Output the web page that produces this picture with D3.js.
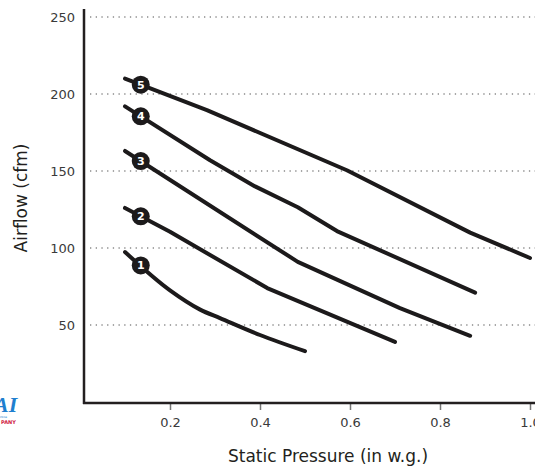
<!DOCTYPE html>
<html>
<head>
<meta charset="utf-8">
<script src="https://cdn.jsdelivr.net/npm/d3@7"></script>
<style>
  body { margin: 0; background: #fff; }
  svg { display: block; font-family: "DejaVu Sans", sans-serif; }
</style>
</head>
<body>
<div id="chart"></div>
<script>
// curve labels and the points (pressure in w.g., airflow in cfm)
var curveNames = ["1", "2", "3", "4", "5"];
var pressure1 = [0.1, 0.2, 0.267, 0.311, 0.4, 0.5];
var airflow1  = [97.4, 72.5, 60, 54.5, 43.5, 33];
var pressure2 = [0.1, 0.2, 0.416, 0.7];
var airflow2  = [126, 110.5, 74, 39];
var pressure3 = [0.1, 0.484, 0.711, 0.867];
var airflow3  = [163, 91, 61, 43];
var pressure4 = [0.1, 0.289, 0.389, 0.484, 0.571, 0.878];
var airflow4  = [192, 157, 140, 126.5, 111, 71];
var pressure5 = [0.1, 0.282, 0.593, 0.867, 1.0];
var airflow5  = [210, 189.5, 150.5, 110, 93.5];
var xTicks = [0.2, 0.4, 0.6, 0.8, 1.0];
var yTicks = [50, 100, 150, 200, 250];
var markerPressure = 0.135;

var width = 535, height = 466;

var svg = d3.select("#chart").append("svg")
  .attr("width", width)
  .attr("height", height);

var x = d3.scaleLinear().domain([0.01, 1.0]).range([84.5, 530]);
var y = d3.scaleLinear().domain([0, 250]).range([402, 17]);

// dotted grid lines
svg.append("g").selectAll("line")
  .data(yTicks)
  .enter().append("line")
  .attr("x1", 90)
  .attr("x2", width)
  .attr("y1", function(d) { return y(d); })
  .attr("y2", function(d) { return y(d); })
  .style("stroke", "#8a8a8a")
  .style("stroke-width", 1.3)
  .style("stroke-dasharray", "1.3,4.4");

// y tick labels
svg.append("g").selectAll("text")
  .data(yTicks)
  .enter().append("text")
  .attr("x", 75)
  .attr("y", function(d) { return y(d); })
  .attr("dy", "0.36em")
  .attr("text-anchor", "end")
  .style("font-size", "13px")
  .style("fill", "#3a3a3a")
  .text(function(d) { return d; });

// x axis ticks + labels
var xAxis = svg.append("g").attr("transform", "translate(0,403)")
  .call(d3.axisBottom(x).tickValues(xTicks).tickFormat(d3.format(".1f")).tickSize(7).tickPadding(8));
xAxis.select(".domain").remove();
xAxis.selectAll(".tick line").style("stroke", "#777").style("stroke-width", 1.5);
xAxis.selectAll(".tick text")
  .style("font-family", "'DejaVu Sans', sans-serif")
  .style("font-size", "13px")
  .style("fill", "#3a3a3a");

// axis lines
svg.append("line")
  .attr("x1", 84).attr("x2", 84).attr("y1", 9).attr("y2", 404)
  .style("stroke", "#231f20").style("stroke-width", 2.5);
svg.append("line")
  .attr("x1", 83).attr("x2", width).attr("y1", 403).attr("y2", 403)
  .style("stroke", "#231f20").style("stroke-width", 2.5);

// axis titles
svg.append("text")
  .attr("x", 328).attr("y", 462)
  .attr("text-anchor", "middle")
  .style("font-size", "17px")
  .style("fill", "#231f20")
  .text("Static Pressure (in w.g.)");

svg.append("text")
  .attr("transform", "translate(27,198) rotate(-90)")
  .attr("text-anchor", "middle")
  .style("font-size", "17px")
  .style("fill", "#231f20")
  .text("Airflow (cfm)");

// curves
var curves = [
  {name: curveNames[0], px: pressure1, af: airflow1},
  {name: curveNames[1], px: pressure2, af: airflow2},
  {name: curveNames[2], px: pressure3, af: airflow3},
  {name: curveNames[3], px: pressure4, af: airflow4},
  {name: curveNames[4], px: pressure5, af: airflow5}
].map(function(c) {
  c.points = c.px.map(function(p, i) { return {p: p, v: c.af[i]}; });
  return c;
});

var line = d3.line()
  .x(function(d) { return x(d.p); })
  .y(function(d) { return y(d.v); });

svg.append("g").selectAll("path")
  .data(curves)
  .enter().append("path")
  .attr("d", function(c) {
    return line.curve(c.name === "1" ? d3.curveMonotoneX : d3.curveLinear)(c.points);
  })
  .style("fill", "none")
  .style("stroke", "#1c1a1b")
  .style("stroke-width", 4)
  .style("stroke-linecap", "round")
  .style("stroke-linejoin", "round");

// numbered markers sitting on each curve
function valueAt(c, p) {
  var pts = c.points;
  for (var i = 0; i < pts.length - 1; i++) {
    if (p >= pts[i].p && p <= pts[i + 1].p) {
      var t = (p - pts[i].p) / (pts[i + 1].p - pts[i].p);
      return pts[i].v + t * (pts[i + 1].v - pts[i].v);
    }
  }
  return pts[0].v;
}

var markers = svg.append("g").selectAll("g")
  .data(curves)
  .enter().append("g")
  .attr("transform", function(c) {
    return "translate(" + x(markerPressure) + "," + y(valueAt(c, markerPressure)) + ")";
  });

markers.append("circle")
  .attr("r", 9)
  .style("fill", "#1c1a1b");

markers.append("text")
  .attr("text-anchor", "middle")
  .attr("dy", "0.36em")
  .style("font-size", "11px")
  .style("font-weight", "bold")
  .style("fill", "#fff")
  .text(function(c) { return c.name; });

// cropped logo at the bottom left
svg.append("text")
  .attr("x", -6).attr("y", 412)
  .style("font-family", "'Liberation Serif', serif")
  .style("font-size", "22px")
  .style("font-weight", "bold")
  .style("font-style", "italic")
  .style("fill", "#1f7fcf")
  .text("AI");
svg.append("text")
  .attr("x", 0).attr("y", 418)
  .style("font-size", "2.5px")
  .style("fill", "#1f7fcf")
  .text("PRISE");
svg.append("text")
  .attr("x", 1).attr("y", 424)
  .style("font-size", "5px")
  .style("font-weight", "bold")
  .style("fill", "#d0213f")
  .text("PANY");
</script>
</body>
</html>
